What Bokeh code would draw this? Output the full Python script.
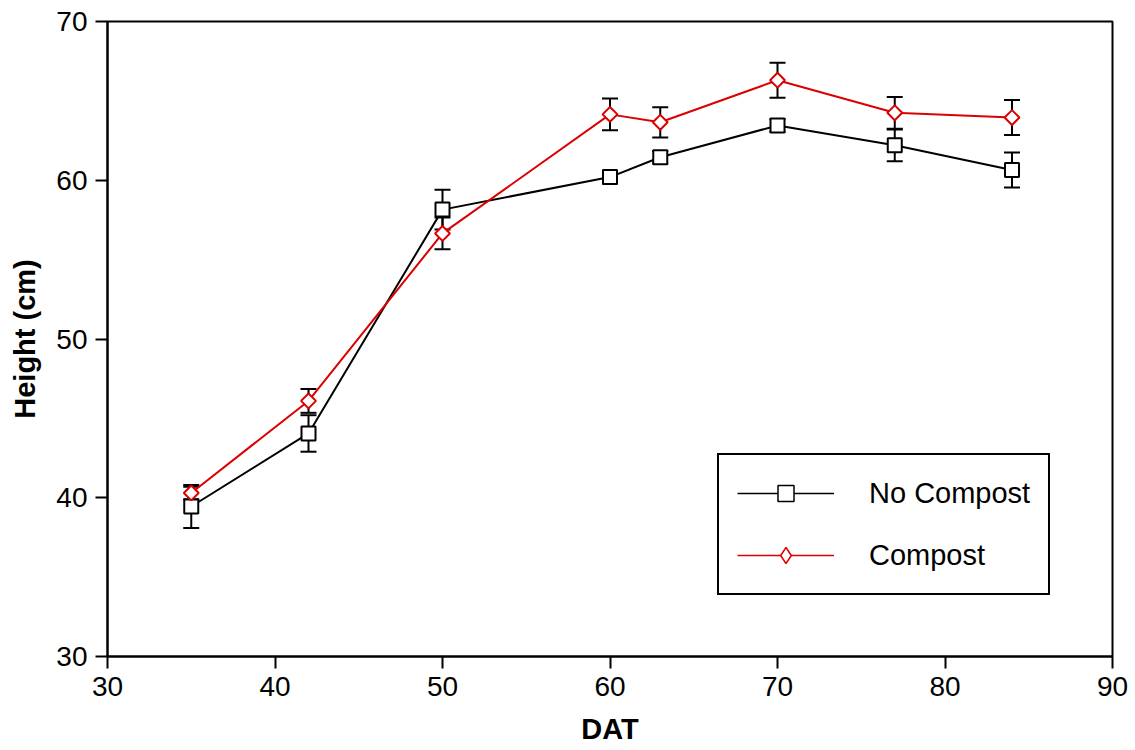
from bokeh.plotting import figure
from bokeh.models import (Range1d, FixedTicker, Whisker, TeeHead, ColumnDataSource,
                          Legend, LegendItem)
from bokeh.embed import file_html
from bokeh.resources import INLINE
import math

# ---- data ----
dat = [35, 42, 50, 60, 63, 70, 77, 84]
no_compost = [39.45, 44.05, 58.15, 60.2, 61.45, 63.45, 62.2, 60.65]
no_compost_err = [1.35, 1.15, 1.25, 0.4, 0.4, 0.4, 1.0, 1.1]
compost = [40.3, 46.1, 56.65, 64.15, 63.65, 66.3, 64.25, 63.95]
compost_err = [0.4, 0.75, 1.0, 1.0, 0.95, 1.1, 1.0, 1.1]
x_ticks = [30, 40, 50, 60, 70, 80, 90]
y_ticks = [30, 40, 50, 60, 70]

RED = "#dc0000"
FONT = "Liberation Sans"

p = figure(width=1135, height=750, output_backend="svg", toolbar_location=None,
           x_range=Range1d(30, 90), y_range=Range1d(30, 70),
           min_border_left=107, min_border_right=23, min_border_top=21,
           min_border_bottom=94)
p.grid.visible = False
p.outline_line_color = "black"
p.outline_line_width = 2
p.background_fill_color = "white"
p.border_fill_color = "white"

for ax, ticks in ((p.xaxis[0], x_ticks), (p.yaxis[0], y_ticks)):
    ax.ticker = FixedTicker(ticks=ticks, minor_ticks=[])
    ax.axis_line_width = 2
    ax.axis_line_color = "black"
    ax.major_tick_line_width = 2
    ax.major_tick_line_color = "black"
    ax.major_tick_out = 12
    ax.major_tick_in = 0
    ax.minor_tick_out = 0
    ax.minor_tick_in = 0
    ax.major_label_text_font = FONT
    ax.major_label_text_font_size = "28px"
    ax.major_label_text_color = "black"
    ax.major_label_standoff = 8
    ax.axis_label_text_font = FONT
    ax.axis_label_text_font_size = "29px"
    ax.axis_label_text_font_style = "bold"
    ax.axis_label_text_color = "black"

p.xaxis.axis_label = "DAT"
p.yaxis.axis_label = "Height (cm)"
p.xaxis.axis_label_standoff = 14
p.yaxis.axis_label_standoff = 12

src_n = ColumnDataSource(dict(x=dat, y=no_compost,
                              lo=[v - e for v, e in zip(no_compost, no_compost_err)],
                              hi=[v + e for v, e in zip(no_compost, no_compost_err)]))
src_c = ColumnDataSource(dict(x=dat, y=compost,
                              lo=[v - e for v, e in zip(compost, compost_err)],
                              hi=[v + e for v, e in zip(compost, compost_err)]))

for src in (src_n, src_c):
    w = Whisker(source=src, base="x", lower="lo", upper="hi",
                line_color="black", line_width=2,
                upper_head=TeeHead(size=16, line_width=2, line_color="black"),
                lower_head=TeeHead(size=16, line_width=2, line_color="black"))
    p.add_layout(w)

p.line("x", "y", source=src_n, line_color="black", line_width=2)
p.line("x", "y", source=src_c, line_color=RED, line_width=2)
p.scatter("x", "y", source=src_n, marker="square", size=14, fill_color="white",
          line_color="black", line_width=2)
p.scatter("x", "y", source=src_c, marker="square", angle=math.pi / 4, size=10.5,
          fill_color="white", line_color=RED, line_width=2)

# legend-only glyphs (hidden in the plot, drawn only as legend swatches)
lg_ln_n = p.line("x", "y", source=src_n, line_color="black", line_width=1.5, visible=False)
lg_mk_n = p.scatter("x", "y", source=src_n, marker="square", size=14, fill_color="white",
                    line_color="black", line_width=1.5, visible=False)
lg_ln_c = p.line("x", "y", source=src_c, line_color=RED, line_width=1.5, visible=False)
lg_mk_c = p.scatter("x", "y", source=src_c, marker="diamond", size=20,
                    fill_color="white", line_color=RED, line_width=1.5, visible=False)

legend = Legend(items=[LegendItem(label="No Compost", renderers=[lg_ln_n, lg_mk_n]),
                       LegendItem(label="Compost", renderers=[lg_ln_c, lg_mk_c])],
                location=(610, 61),
                glyph_width=97, glyph_height=40, label_height=40,
                label_standoff=35, spacing=22, padding=18, margin=0,
                label_text_font=FONT, label_text_font_size="29px",
                label_text_color="black",
                inactive_fill_alpha=0,
                border_line_color="black", border_line_width=2, border_line_alpha=1,
                background_fill_color="white", background_fill_alpha=1)
p.add_layout(legend, "center")

open("out.html", "w").write(file_html(p, INLINE))
